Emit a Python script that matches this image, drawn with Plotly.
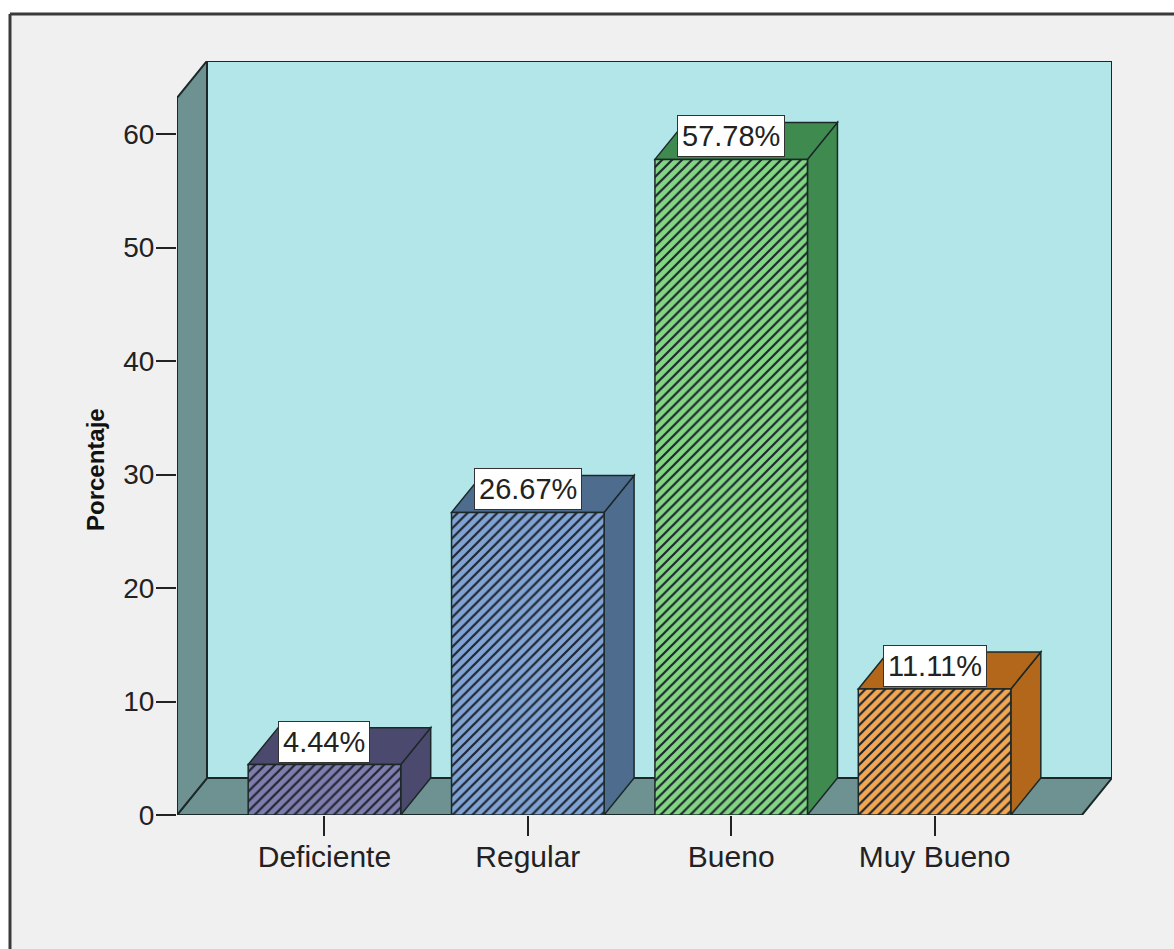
import plotly.graph_objects as go

# ---- data ----
categories = ["Deficiente", "Regular", "Bueno", "Muy Bueno"]
percentages = [4.44, 26.67, 57.78, 11.11]
y_ticks = [0, 10, 20, 30, 40, 50, 60]

# ---- style ----
front_colors = ["#807dae", "#80a3d4", "#82d682", "#f4a752"]
side_colors = ["#4b4a6e", "#4e6c8e", "#3f8b4f", "#b3671b"]
hatch_color = "#1e2630"
wall_color = "#b3e6e8"
side_wall_color = "#6e9191"
edge = "#1c2828"
FONT = "Liberation Sans, Arial, sans-serif"

W, H = 1174, 949
ML, MR, MT, MB = 177, 62, 61, 134
X_MIN, X_MAX = -0.725, 3.8725
Y_MAX = 66.45
DX, DY = 0.1475, 3.26          # depth of the 3-D effect in data units
WALL_TOP = 63.2
FRONT_RIGHT = X_MAX - DX
BAR_W = 0.75

fig = go.Figure()

for i, (cat, v) in enumerate(zip(categories, percentages)):
    fig.add_trace(go.Bar(
        x=[i], y=[v], width=BAR_W,
        marker=dict(
            color=front_colors[i], opacity=1,
            line=dict(color=edge, width=1.5),
            pattern=dict(shape="/", fgcolor=hatch_color, fgopacity=1,
                         size=7, solidity=0.32, fillmode="overlay"),
        ),
        name=cat, hoverinfo="skip", showlegend=False,
    ))

shapes = []

def poly(pts, fill, lw=2, layer="below"):
    path = "M " + " L ".join(f"{x},{y}" for x, y in pts) + " Z"
    return dict(type="path", path=path, xref="x", yref="y", fillcolor=fill,
                line=dict(color=edge, width=lw), layer=layer)

# back wall
shapes.append(poly([(X_MIN + DX, DY), (X_MAX, DY), (X_MAX, WALL_TOP + DY),
                    (X_MIN + DX, WALL_TOP + DY)], wall_color))
# floor
shapes.append(poly([(X_MIN, 0), (FRONT_RIGHT, 0), (X_MAX, DY), (X_MIN + DX, DY)],
                   side_wall_color))
# left wall
shapes.append(poly([(X_MIN, 0), (X_MIN, WALL_TOP), (X_MIN + DX, WALL_TOP + DY),
                    (X_MIN + DX, DY)], side_wall_color))

# bar side & top faces
for i, v in enumerate(percentages):
    x0, x1 = i - BAR_W / 2, i + BAR_W / 2
    shapes.append(poly([(x1, 0), (x1, v), (x1 + DX, v + DY), (x1 + DX, DY)],
                       side_colors[i], lw=1.5))
    shapes.append(poly([(x0, v), (x1, v), (x1 + DX, v + DY), (x0 + DX, v + DY)],
                       side_colors[i], lw=1.5))

# outer frame (top and left lines) in paper coordinates
pw, ph = W - ML - MR, H - MT - MB
def px(x):
    return (x - ML) / pw
def py(y):
    return (H - MB - y) / ph

shapes.append(dict(type="rect", xref="paper", yref="paper", x0=px(0), x1=px(W),
                   y0=py(0), y1=py(13), fillcolor="white", line=dict(width=0), layer="below"))
shapes.append(dict(type="rect", xref="paper", yref="paper", x0=px(0), x1=px(9),
                   y0=py(0), y1=py(H), fillcolor="white", line=dict(width=0), layer="below"))
shapes.append(dict(type="line", xref="paper", yref="paper", x0=px(10), x1=px(W),
                   y0=py(14), y1=py(14), line=dict(color="#3a3a3a", width=3)))
shapes.append(dict(type="line", xref="paper", yref="paper", x0=px(10), x1=px(10),
                   y0=py(14), y1=py(H), line=dict(color="#3a3a3a", width=3)))

annotations = []
for i, v in enumerate(percentages):
    annotations.append(dict(
        x=i, y=v, xref="x", yref="y", text=f"{v:.2f}%", showarrow=False,
        yanchor="bottom", xanchor="center", yshift=2,
        font=dict(family=FONT, size=29, color="#222222"),
        bgcolor="white", bordercolor="#333333", borderwidth=1, borderpad=4,
    ))

annotations.append(dict(
    x=px(95), y=py(470), xref="paper", yref="paper", text="<b>Porcentaje</b>",
    textangle=-90, showarrow=False, xanchor="center", yanchor="middle",
    font=dict(family=FONT, size=24, color="#111111"),
))

fig.update_layout(
    width=W, height=H,
    margin=dict(l=ML, r=MR, t=MT, b=MB, pad=0),
    paper_bgcolor="#f0f0f0", plot_bgcolor="rgba(0,0,0,0)",
    shapes=shapes, annotations=annotations,
    xaxis=dict(range=[X_MIN, X_MAX], tickvals=list(range(len(categories))),
               ticktext=categories, ticks="outside", ticklen=20, tickwidth=2,
               tickcolor="#222222", showgrid=False, zeroline=False, showline=False,
               ticklabelstandoff=-5,
               tickfont=dict(family=FONT, size=30, color="#222222"), fixedrange=True),
    yaxis=dict(range=[0, Y_MAX], tickvals=y_ticks, ticks="outside", ticklen=20,
               tickwidth=2, tickcolor="#222222", showgrid=False, zeroline=False,
               showline=False, ticklabelstandoff=-4,
               tickfont=dict(family=FONT, size=28, color="#222222"),
               fixedrange=True),
    barmode="overlay",
    showlegend=False,
)

fig.write_html("out.html")
